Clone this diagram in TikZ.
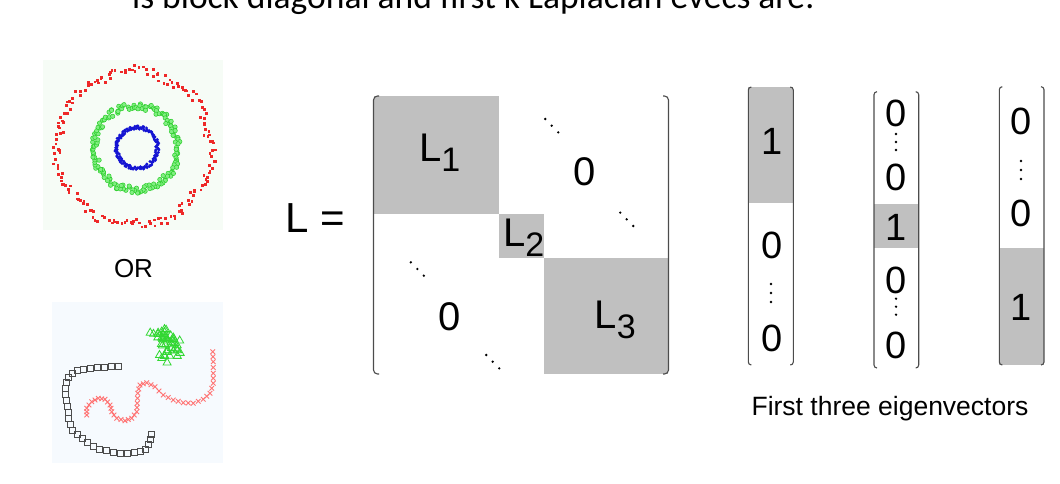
\documentclass[tikz,border=0pt]{standalone}
\usepackage{fontspec}
\usepackage{graphicx}
\setmainfont{Liberation Sans}
\newfontfamily\titlefont{Carlito}
\usepackage{tikz}

\definecolor{cellgray}{RGB}{192,192,192}
\definecolor{ringbg}{RGB}{246,252,246}
\definecolor{moonbg}{RGB}{246,250,254}
\definecolor{ringred}{RGB}{238,40,40}
\definecolor{ringgreen}{RGB}{40,205,40}
\definecolor{ringgreenfill}{RGB}{130,238,130}
\definecolor{ringblue}{RGB}{20,20,210}
\definecolor{trigreen}{RGB}{50,215,50}

\newcommand{\fsz}[1]{\fontsize{#1}{#1}\selectfont}
\newcommand{\Lblk}[1]{L\raisebox{-10pt}{\fsz{34}#1}}

\begin{document}
\begin{tikzpicture}[x=1pt,y=-1pt,
  lbl/.style={inner sep=0pt,anchor=base},
  blk/.style={fill=cellgray},
  brak/.style={line width=1.1pt,black!70,rounded corners=4pt},
  sqm/.style={draw=black!70,line width=0.9pt},
  crm/.style={draw=red!55,line width=0.9pt},
  trm/.style={draw=trigreen,line width=0.8pt}]
\clip (0,0) rectangle (1060,484);

% Title line, cut off at the top
\node[lbl,anchor=base west,font=\titlefont\fsz{35.5}] (title) at (132,8.5)
    {is block diagonal and first k Laplacian evecs are:};

% Ring data set
\fill[ringbg] (43,60) rectangle (223,230);
\pgfmathsetseed{7}
\foreach \i in {1,...,180} {
    \pgfmathsetmacro\ang{\i*2+2*rand}
    \pgfmathsetmacro\rad{77+4*rand+2*sin(7*\ang)}
    \fill[ringred] ({134+\rad*cos(\ang)-1.4},{148+\rad*sin(\ang)-1.4}) rectangle +(2.8,2.8);
}
\foreach \i in {1,...,160} {
    \pgfmathsetmacro\ang{\i*2.25+2*rand}
    \pgfmathsetmacro\rad{42+3.5*rand}
    \filldraw[fill=ringgreenfill,draw=ringgreen,line width=0.5pt]
        ({136+\rad*cos(\ang)},{148+\rad*sin(\ang)}) circle (2.2);
}
\foreach \i in {1,...,170} {
    \pgfmathsetmacro\ang{\i*2.12+2*rand}
    \pgfmathsetmacro\rad{20.5+1.8*rand}
    \fill[ringblue] ({137+\rad*cos(\ang)},{148+\rad*sin(\ang)}) circle (1.6);
}

\node[lbl,font=\fsz{26}] (orlabel) at (133.5,277) {OR};

% Moons data set
\fill[moonbg] (52,302) rectangle (223,463);
\foreach \i in {1,...,45} {
    \pgfmathsetmacro\tx{166+10*(rand+rand)}
    \pgfmathsetmacro\ty{343+10*(rand+rand)}
    \draw[trm] ({\tx},{\ty-4}) -- ({\tx+4},{\ty+3}) -- ({\tx-4},{\ty+3}) -- cycle;
}
\foreach \x/\y in {118/366, 111/366.5, 104/367, 97/367.5, 90/368, 83/369,
    77/370.5, 72/373, 68/377, 66/382, 65/388, 65/394, 66/400, 67/406, 68/412,
    68.5/418, 70/424, 72/430, 77/434, 82/438, 87/442, 93/446, 99/449, 106/450.5,
    113/452, 120/453, 127/453.5, 134/452.5, 140/451, 145/449, 148/444, 150/439,
    151.5/434}
    \draw[sqm] ({\x-3},{\y-3}) rectangle ({\x+3},{\y+3});
\foreach \x/\y in {86.7/415, 86.7/411.7, 86.7/408.3, 89/405, 91.7/401.7, 95/400,
    98.3/398.3, 101.7/398.8, 105/399.3, 107.5/402, 110/405, 111/408.3, 111.7/411.7,
    114/415, 116.7/418.3, 121/419.5, 125/420.7, 128.3/419.5, 131.7/418.3, 134.3/415,
    136.7/411.7, 137/407.5, 137.3/403.3, 137.5/398.3, 137.7/393.3, 138.8/389,
    140/385, 143.3/383.8, 146.7/382.7, 151/384.7, 155/386.7, 159/391, 163.3/395,
    168.3/397.5, 173.3/400, 178.3/401.3, 183.3/402.7, 188.3/403, 193.3/403.3,
    198.3/401.3, 203.3/399.3, 206.7/396.3, 210/393.3, 211.7/388.3, 213.3/383.3,
    213.3/378.3, 213.3/373.3, 213.3/367.5, 213.3/361.7, 213/356.7, 212.7/351.7}
    \draw[crm] ({\x-2.3},{\y-2.3}) -- ({\x+2.3},{\y+2.3}) ({\x-2.3},{\y+2.3}) -- ({\x+2.3},{\y-2.3});

% Block diagonal Laplacian
\node[lbl,font=\fsz{42}] (lhs) at (315.5,232) {L =};
\fill[blk] (374,96) rectangle (499,213.5);
\fill[blk] (499,213.5) rectangle (543.5,258);
\fill[blk] (543.5,258) rectangle (668,374);
\draw[brak] (379,96) -- (373.5,96) -- (373.5,374) -- (379,374);
\draw[brak] (663,96) -- (668.5,96) -- (668.5,374) -- (663,374);
\node[lbl,anchor=base west,font=\fsz{40}] (blkA) at (419,161.7) {\Lblk{1}};
\node[lbl,anchor=base west,font=\fsz{40}] (blkB) at (503,246.7) {\Lblk{2}};
\node[lbl,anchor=base west,font=\fsz{40}] (blkC) at (594.5,328.3) {\Lblk{3}};
\node[lbl,font=\fsz{40}] (zeroUp) at (584.7,185) {0};
\node[lbl,font=\fsz{40}] (zeroLo) at (450,330.7) {0};
\foreach \x/\y in {551.7/125.7, 626.7/219.3, 417.3/269, 492.7/361.7}
    \foreach \d in {-1,0,1}
        \fill ({\x+6.5*\d},{\y+6.7*\d}) circle (1.3);

% Indicator eigenvectors
\fill[blk] (748.3,87) rectangle (793.3,203.3);
\fill[blk] (874,204) rectangle (918.7,248.3);
\fill[blk] (999.3,248.3) rectangle (1044,365);
\foreach \l/\r/\t/\b in {748.3/793.3/87/365, 874/918.7/91.7/368, 999.3/1044/86.7/365} {
    \draw[brak,rounded corners=3pt] ({\l+3},\t) -- (\l,\t) -- (\l,\b) -- ({\l+3},\b);
    \draw[brak,rounded corners=3pt] ({\r-3},\t) -- (\r,\t) -- (\r,\b) -- ({\r-3},\b);
}
\node[lbl,font=\fsz{38}] (vaOne) at (772.5,154) {1};
\node[lbl,font=\fsz{38}] (vaTop) at (772,258.3) {0};
\node[lbl,font=\fsz{38}] (vaBot) at (772,351.7) {0};
\node[lbl,font=\fsz{38}] (vbA) at (896,126.7) {0};
\node[lbl,font=\fsz{38}] (vbB) at (896,190) {0};
\node[lbl,font=\fsz{38}] (vbOne) at (896,240) {1};
\node[lbl,font=\fsz{38}] (vbC) at (896,293.3) {0};
\node[lbl,font=\fsz{38}] (vbD) at (896,358.3) {0};
\node[lbl,font=\fsz{38}] (vcTop) at (1021,135) {0};
\node[lbl,font=\fsz{38}] (vcBot) at (1021,226.7) {0};
\node[lbl,font=\fsz{38}] (vcOne) at (1021,320) {1};
\foreach \x/\y/\s in {771/293/9, 896/142/8, 896/306.7/8, 1021/170/9}
    \foreach \d in {-1,0,1}
        \fill ({\x},{\y+\s*\d}) circle (1.3);

\node[lbl,font=\fsz{26.5}] (caption) at (890,415) {First three eigenvectors};
\end{tikzpicture}
\end{document}
